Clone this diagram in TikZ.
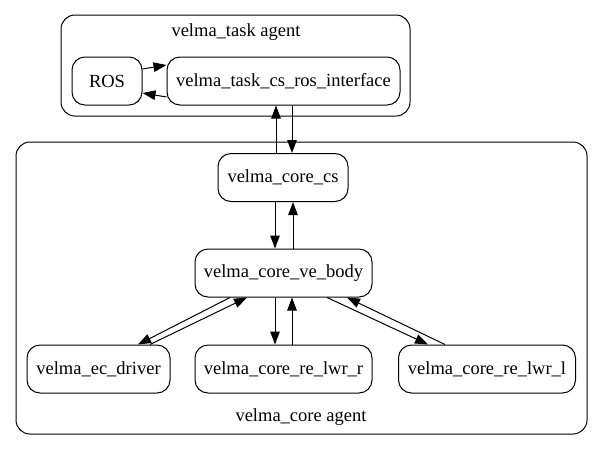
\documentclass[tikz,border=0pt]{standalone}
\usepackage{fontspec}
\setmainfont{Liberation Serif}
\usetikzlibrary{arrows.meta}

\begin{document}
\begin{tikzpicture}[x=1pt, y=-1pt,
    block/.style={rectangle, draw, line width=1pt, rounded corners=13pt, minimum height=48pt, inner sep=0pt, font=\rmfamily\fontsize{18.5}{22}\selectfont},
    cluster/.style={rectangle, draw, line width=1pt, rounded corners=14pt, inner sep=0pt},
    caption/.style={inner sep=0pt, font=\rmfamily\fontsize{18.5}{22}\selectfont},
    arrow/.style={-{Triangle[length=13pt,width=9.5pt]}, line width=1pt}
]
    \useasboundingbox (0,0) rectangle (603,451);

    % agents
    \node[cluster, minimum width=349pt, minimum height=101pt] (taskagent) at (235.5,65.5) {};
    \node[cluster, minimum width=571pt, minimum height=292pt] (coreagent) at (301.5,288) {};
    \node[caption] (tasklabel) at (236,32) {velma\_task agent};
    \node[caption] (corelabel) at (301,417) {velma\_core agent};

    \node[block, minimum width=70pt] (ros) at (107,81) {ROS};
    \node[block, minimum width=233pt] (iface) at (283.5,81) {velma\_task\_cs\_ros\_interface};

    \node[block, minimum width=130pt] (cs) at (283,177.5) {velma\_core\_cs};
    \node[block, minimum width=177pt] (body) at (283.5,273) {velma\_core\_ve\_body};

    \node[block, minimum width=143pt] (ec) at (98.5,369) {velma\_ec\_driver};
    \node[block, minimum width=177pt] (lwrr) at (283.5,369) {velma\_core\_re\_lwr\_r};
    \node[block, minimum width=177pt] (lwrl) at (487,369) {velma\_core\_re\_lwr\_l};

    \draw[arrow] ([yshift=12pt]ros.east) -- ([yshift=16pt]iface.west);
    \draw[arrow] ([yshift=-16pt]iface.west) -- ([yshift=-12pt]ros.east);
    \draw[arrow] ([xshift=-7pt]cs.north) -- ([xshift=-7.5pt]iface.south);
    \draw[arrow] ([xshift=8.5pt]iface.south) -- ([xshift=9pt]cs.north);
    \draw[arrow] ([xshift=-8pt]cs.south) -- ([xshift=-8.5pt]body.north);
    \draw[arrow] ([xshift=9.5pt]body.north) -- ([xshift=10pt]cs.south);
    \draw[arrow] ([xshift=-53.5pt]body.south) -- ([xshift=39.5pt]ec.north);
    \draw[arrow] ([xshift=51.5pt]ec.north) -- ([xshift=-36.5pt]body.south);
    \draw[arrow] ([xshift=-8.5pt]body.south) -- ([xshift=-8.5pt]lwrr.north);
    \draw[arrow] ([xshift=8.5pt]lwrr.north) -- ([xshift=8.5pt]body.south);
    \draw[arrow] ([xshift=43.5pt]body.south) -- ([xshift=-59pt]lwrl.north);
    \draw[arrow] ([xshift=-42pt]lwrl.north) -- ([xshift=63.5pt]body.south);
\end{tikzpicture}
\end{document}
